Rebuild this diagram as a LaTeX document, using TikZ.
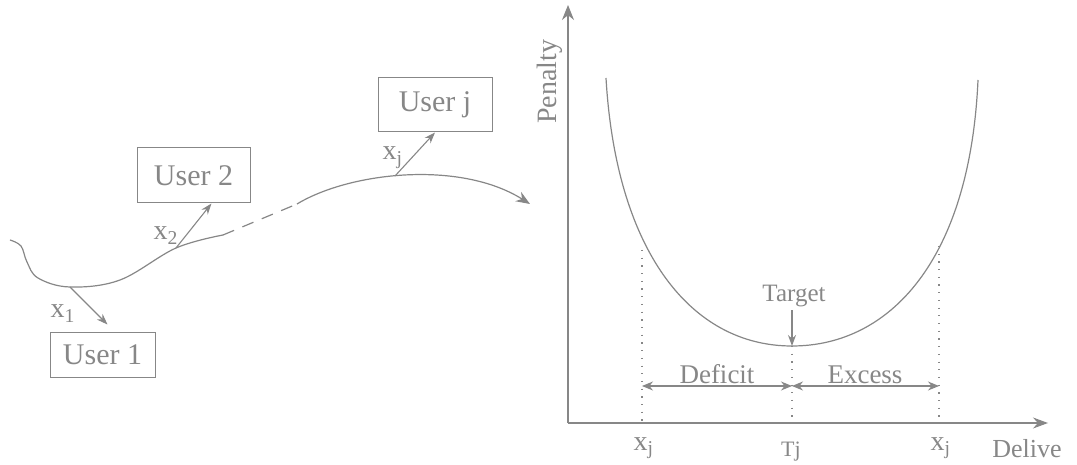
\documentclass[tikz,border=0pt]{standalone}
\usepackage{fontspec}
\setmainfont{Liberation Serif}
\usetikzlibrary{arrows.meta}
\definecolor{ink}{RGB}{135,135,135}
\begin{document}
\begin{tikzpicture}[x=1pt,y=-1pt,line width=1.1pt,
  every node/.style={text=ink,inner sep=0pt},
  userbox/.style={draw=ink,line width=1pt,font=\fontsize{30}{32}\selectfont},
  lab/.style={font=\fontsize{28}{30}\selectfont},
  arr/.style={draw=ink,-{Stealth[length=11pt,width=8pt]}},
  dblarr/.style={draw=ink,{Stealth[length=11pt,width=9pt]}-{Stealth[length=11pt,width=9pt]}},
  bigarr/.style={draw=ink,-{Stealth[length=15pt,width=12pt]}},
  dotline/.style={draw=ink,line width=1.2pt,dash pattern=on 1.2pt off 6.5pt},
  curve/.style={draw=ink,line width=1.2pt}]
\useasboundingbox (0,0) rectangle (1077,465);
% ---------- left part ----------
\node[userbox,minimum width=105pt,minimum height=45pt] (u1) at (102.5,354.5) {User 1};
\node[userbox,minimum width=113pt,minimum height=55pt] (u2) at (193.5,175.5) {User 2};
\node[userbox,minimum width=114pt,minimum height=54pt] (uj) at (435,105) {User j};
\coordinate (c0) at (10,240);
\coordinate (c1) at (70,287);
\coordinate (c2) at (176,248);
\coordinate (d1) at (223,235);
\coordinate (d2) at (297,204);
\coordinate (cj) at (395,176);
\coordinate (cend) at (530,204);
\draw[curve] plot[smooth,tension=0.6] coordinates {(10,240) (21,246) (27,262) (38,278) (70,287) (120,280) (176,248) (223,235)};
\draw[curve,dash pattern=on 12pt off 9pt] (d1) -- (d2);
\draw[curve,-{Stealth[length=14pt,width=11pt]}] (d2) .. controls (350,172) and (460,160) .. (cend);
\draw[arr] (c1) -- ([xshift=5pt,yshift=7pt]u1.north);
\draw[arr] (c2) -- ([xshift=18pt]u2.south);
\draw[arr] (cj) -- (uj.south);
\node[lab,anchor=base west] (lx1) at (50,318) {x\textsubscript{1}};
\node[lab,anchor=base west] (lx2) at (153,240) {x\textsubscript{2}};
\node[lab,anchor=base west] (lxj) at (382,160) {x\textsubscript{j}};
% ---------- right part ----------
\coordinate (O) at (568,423);
\coordinate (ytop) at (568,5);
\coordinate (xend) at (1048,423);
\draw[bigarr,line width=1.1pt] (O) -- (ytop);
\draw[draw=ink,line width=1.1pt,-{Stealth[length=15pt,width=11pt]}] (O) -- (xend);
\node[lab,rotate=90] (pen) at (550,82) {Penalty};
\node[lab,font=\fontsize{26}{28}\selectfont,anchor=base] (dl) at (1027,457) {Delive};
\coordinate (M) at (792,346);
\draw[curve] (606,78) .. controls (616,250) and (690,346) .. (M)
             .. controls (890,346) and (970,260) .. (978,80);
\coordinate (L) at (642,250);
\coordinate (R) at (939,246);
\draw[dotline] (L) -- (L |- O);
\draw[dotline] (R) -- (R |- O);
\draw[dotline] (M) -- (M |- O);
\node[lab,font=\fontsize{25}{27}\selectfont] (tgt) at (794,296) {Target};
\draw[arr] ([yshift=-3pt]tgt.south -| M) -- (M);
\coordinate (aL) at (642,386);
\coordinate (aM) at (792,386);
\coordinate (aR) at (939,386);
\draw[dblarr] (aL) -- (aM);
\draw[dblarr] (aM) -- (aR);
\node[lab,font=\fontsize{27}{29}\selectfont,anchor=base] (def) at (717,383) {Deficit};
\node[lab,font=\fontsize{27}{29}\selectfont,anchor=base] (exc) at (865,383) {Excess};
\node[lab,anchor=base west] (xjl) at (633,450) {x\textsubscript{j}};
\node[lab,font=\fontsize{22}{24}\selectfont,anchor=base] (tj) at (791,456) {Tj};
\node[lab,anchor=base west] (xjr) at (930,450) {x\textsubscript{j}};
\end{tikzpicture}
\end{document}
